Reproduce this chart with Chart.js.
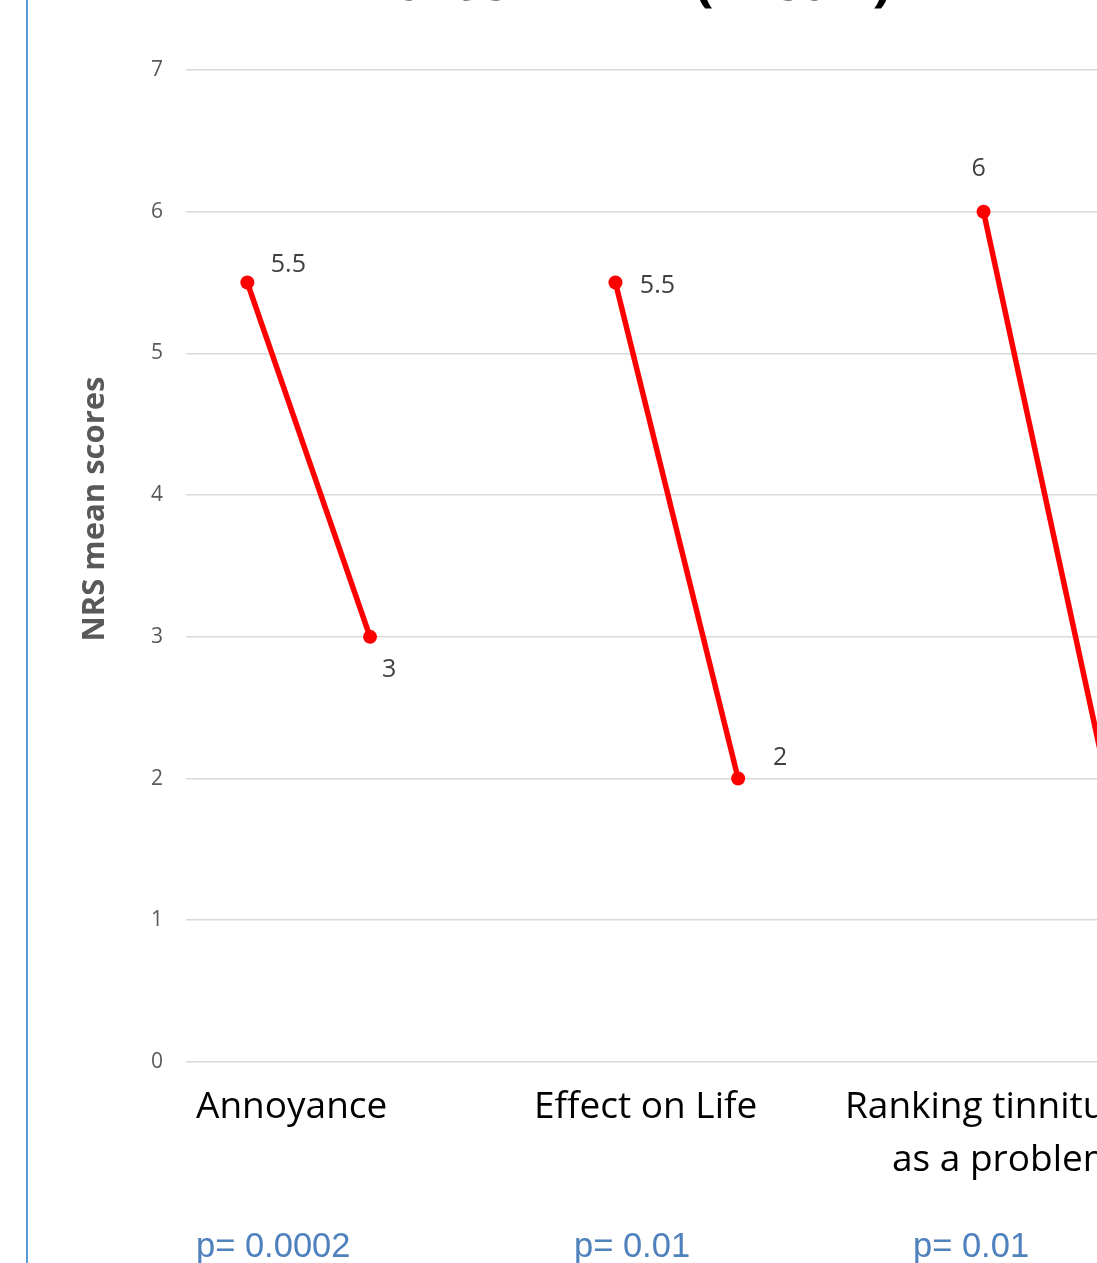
<!DOCTYPE html>
<html>
<head>
<meta charset="utf-8">
<script src="https://cdn.jsdelivr.net/npm/chart.js@4"></script>
<style>
  html, body { margin: 0; padding: 0; background: #ffffff; overflow: hidden; width: 1097px; height: 1263px; }
  #wrap { position: absolute; left: 0; top: 0; width: 1300px; height: 1263px; }
  #frame { position: absolute; left: 26px; top: 0; width: 2px; height: 1263px; background: #5B9BD5; }
</style>
</head>
<body>
<div id="frame"></div>
<div id="wrap"><canvas id="c"></canvas></div>
<script>
// ---- data ----
const categories = ['Annoyance', 'Effect on Life', 'Ranking tinnitus as a problem'];
const categoryLines = [['Annoyance'], ['Effect on Life'], ['Ranking tinnitus', 'as a problem']];
const beforeTRT = [5.5, 5.5, 6];
const afterTRT = [3, 2, 2];
const pValues = ['p= 0.0002', 'p= 0.01', 'p= 0.01'];
const yTicks = [0, 1, 2, 3, 4, 5, 6, 7];
const titleText = 'after TRT   (mean)';
const yTitle = 'NRS mean scores';

// ---- build datasets ----
const datasets = categories.map((c, i) => ({
  label: c,
  data: [{ x: 3 * i + 1, y: beforeTRT[i] }, { x: 3 * i + 2, y: afterTRT[i] }],
  borderColor: '#FF0000',
  backgroundColor: '#FF0000',
  borderWidth: 5.5,
  pointRadius: 7,
  pointBorderWidth: 0,
  pointBackgroundColor: '#FF0000',
  tension: 0
}));

// label offsets (px) relative to each point: [before, after]
const labelOffsets = [[[41, -20], [19, 31]], [[42, 1], [42, -23]], [[-5, -45], [42, -23]]];

const decor = {
  id: 'decor',
  afterDatasetsDraw(chart) {
    const ctx = chart.ctx;
    ctx.save();
    // data labels
    ctx.font = '25px "Open Sans"';
    ctx.fillStyle = '#404040';
    ctx.textAlign = 'center';
    ctx.textBaseline = 'alphabetic';
    chart.data.datasets.forEach((ds, di) => {
      const meta = chart.getDatasetMeta(di);
      meta.data.forEach((pt, pi) => {
        const off = labelOffsets[di][pi];
        ctx.fillText(String(ds.data[pi].y), pt.x + off[0], pt.y + off[1] + 9);
      });
    });
    // title (cut at top)
    ctx.font = 'bold 56px "Open Sans"';
    ctx.fillStyle = '#000000';
    ctx.textAlign = 'center';
    ctx.fillText(titleText, 644, 0);
    // y title
    ctx.save();
    ctx.translate(104, 509);
    ctx.rotate(-Math.PI / 2);
    ctx.font = 'bold 31px "Open Sans"';
    ctx.fillStyle = '#595959';
    ctx.textAlign = 'center';
    ctx.fillText(yTitle, 0, 0);
    ctx.restore();
    // category labels
    const catLeft = [[196], [534], [845, 892]];
    ctx.font = '37px "Open Sans"';
    ctx.fillStyle = '#000000';
    ctx.textAlign = 'left';
    categoryLines.forEach((lines, i) => {
      lines.forEach((ln, li) => {
        ctx.fillText(ln, catLeft[i][li], 1118 + li * 53);
      });
    });
    // p values
    const pLeft = [196, 574, 913];
    ctx.font = '34.5px "Liberation Sans"';
    ctx.fillStyle = '#4F81BD';
    pValues.forEach((p, i) => ctx.fillText(p, pLeft[i], 1257));
    ctx.restore();
  }
};

new Chart(document.getElementById('c'), {
  type: 'line',
  data: { datasets },
  options: {
    responsive: true,
    maintainAspectRatio: false,
    animation: false,
    layout: { padding: { top: 70, bottom: 201, left: 0, right: 132.4 } },
    plugins: { legend: { display: false }, tooltip: { enabled: false }, title: { display: false } },
    scales: {
      x: { type: 'linear', min: 0.5, max: 8.5, display: false },
      y: {
        min: 0, max: 7,
        afterBuildTicks: (s) => { s.ticks = yTicks.map(v => ({ value: v })); },
        afterFit: (s) => { s.width = 186; },
        ticks: { font: { family: '"Open Sans"', size: 21 }, color: '#595959', padding: 23 },
        grid: { color: '#d9d9d9', lineWidth: 1.6, drawTicks: false },
        border: { display: false }
      }
    }
  },
  plugins: [decor]
});
</script>
</body>
</html>
